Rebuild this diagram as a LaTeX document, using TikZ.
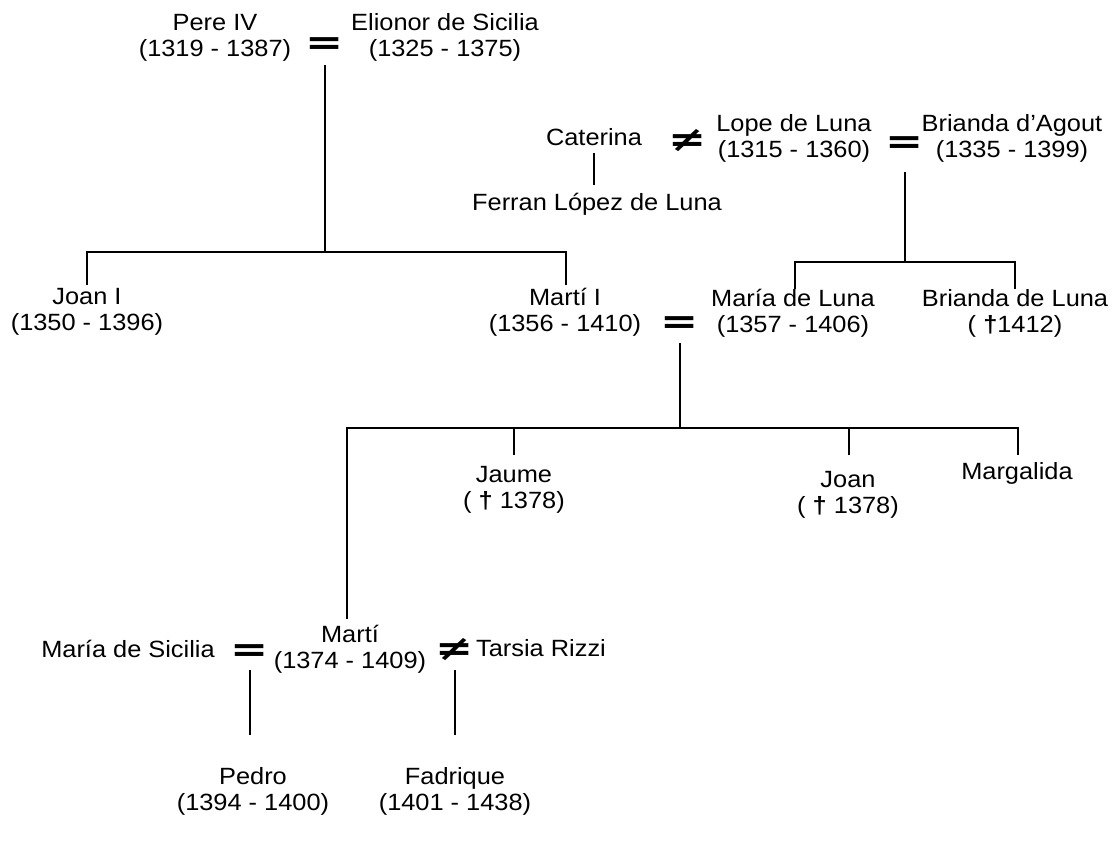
\documentclass[tikz,border=0pt]{standalone}
\usepackage{graphicx}
\usepackage{fontspec}
\setmainfont{Liberation Sans}[FakeStretch=1.08]
\newfontfamily\symfont{DejaVu Sans}[BoldFont={DejaVu Sans Bold}]
\tikzset{
  person/.style={font=\fontsize{23.5}{26}\selectfont, align=center, inner sep=0pt},
  marr/.style={font=\symfont\bfseries\fontsize{35}{35}\selectfont, inner sep=0pt},
  tree/.style={line width=2.8pt}
}
\newcommand{\dg}{{\bfseries †}}
\newcommand{\wsym}[1]{\scalebox{1.3}[1]{#1}}
\begin{document}
\begin{tikzpicture}[x=1pt,y=-1pt]
\useasboundingbox (0,0) rectangle (1113,849);
% generation 1
\node[person] (pere) at (215,37.5) {Pere IV\\(1319 - 1387)};
\node[marr] (eq1) at (325,46) {\wsym{=}};
\node[person] (elionor) at (445,37.5) {Elionor de Sicilia\\(1325 - 1375)};
% Luna
\node[person] (caterina) at (594,137) {Caterina};
\node[person] (ferran) at (597,204) {Ferran López de Luna};
\node[marr] (neq1) at (688,141) {\wsym{≠}};
\node[person] (lope) at (794,138) {Lope de Luna\\(1315 - 1360)};
\node[marr] (eq2) at (905,145) {\wsym{=}};
\node[person] (briandaA) at (1012,138) {Brianda d’Agout\\(1335 - 1399)};
% generation 2
\node[person] (joanI) at (87,312) {Joan I\\(1350 - 1396)};
\node[person] (martiI) at (565,312) {Martí I\\(1356 - 1410)};
\node[marr] (eq3) at (680,325) {\wsym{=}};
\node[person] (maria) at (793,313) {María de Luna\\(1357 - 1406)};
\node[person] (briandaL) at (1015,313) {Brianda de Luna\\( \dg1412)};
% generation 3
\node[person] (jaume) at (514,490) {Jaume\\( \dg{} 1378)};
\node[person] (joan) at (848,495) {Joan\\( \dg{} 1378)};
\node[person] (margalida) at (1017,473) {Margalida};
% generation 4
\node[person] (mariaS) at (128,649) {María de Sicilia};
\node[marr] (eq4) at (250,653) {\wsym{=}};
\node[person] (marti) at (350,649) {Martí\\(1374 - 1409)};
\node[marr] (neq2) at (455,650) {\wsym{≠}};
\node[person] (tarsia) at (541,648) {Tarsia Rizzi};
% generation 5
\node[person] (pedro) at (253,791) {Pedro\\(1394 - 1400)};
\node[person] (fadrique) at (455,791) {Fadrique\\(1401 - 1438)};
% coordinates
\coordinate (a1) at (325,65);
\coordinate (a2) at (325,252);
\coordinate (a3) at (87,252);
\coordinate (a4) at (87,285);
\coordinate (a5) at (566,252);
\coordinate (a6) at (566,285);
\coordinate (c1) at (594,153);
\coordinate (c2) at (594,185);
\coordinate (b1) at (905,172);
\coordinate (b2) at (905,262);
\coordinate (b3) at (795,262);
\coordinate (b4) at (795,289);
\coordinate (b5) at (1015,262);
\coordinate (b6) at (1015,289);
\coordinate (d1) at (680,343);
\coordinate (d2) at (680,428);
\coordinate (d3) at (347,428);
\coordinate (d4) at (347,619);
\coordinate (d5) at (1018,428);
\coordinate (d6) at (1018,455);
\coordinate (d7) at (514,428);
\coordinate (d8) at (514,455);
\coordinate (d9) at (849,428);
\coordinate (d10) at (849,455);
\coordinate (e1) at (250,670);
\coordinate (e2) at (250,735);
\coordinate (f1) at (455,670);
\coordinate (f2) at (455,735);
% lines
\draw[tree] (a1) -- (a2);
\draw[tree] (a4) -- (a3) -- (a5) -- (a6);
\draw[tree] (c1) -- (c2);
\draw[tree] (b1) -- (b2);
\draw[tree] (b4) -- (b3) -- (b5) -- (b6);
\draw[tree] (d1) -- (d2);
\draw[tree] (d4) -- (d3) -- (d5) -- (d6);
\draw[tree] (d7) -- (d8);
\draw[tree] (d9) -- (d10);
\draw[tree] (e1) -- (e2);
\draw[tree] (f1) -- (f2);
\end{tikzpicture}
\end{document}
